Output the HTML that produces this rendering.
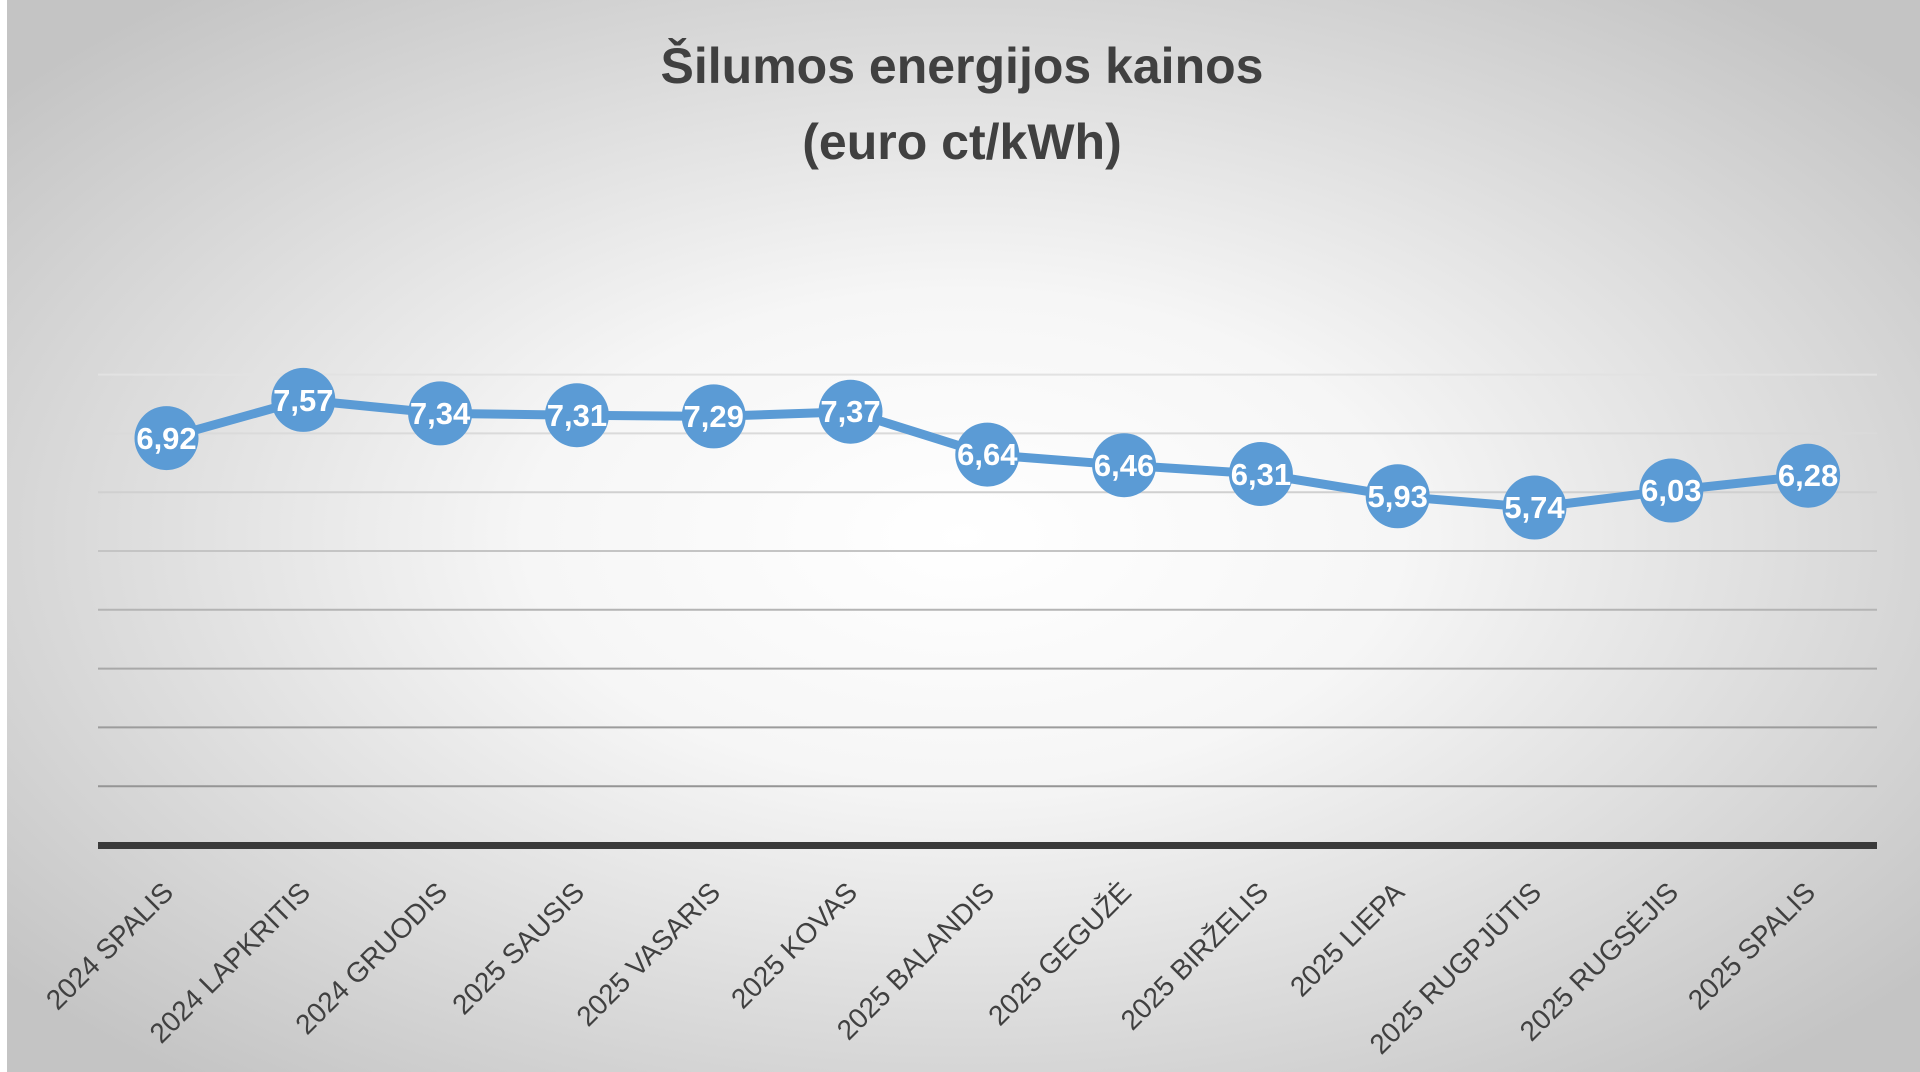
<!DOCTYPE html>
<html><head><meta charset="utf-8"><style>
html,body{margin:0;padding:0;width:1920px;height:1072px;overflow:hidden;background:#fff}
</style></head><body>
<svg width="1920" height="1072" xmlns="http://www.w3.org/2000/svg">
<defs>
<radialGradient id="bg" cx="50%" cy="50%" r="65%">
<stop offset="0" stop-color="#ffffff"/>
<stop offset="0.35" stop-color="#f6f6f6"/>
<stop offset="1" stop-color="#c4c4c4"/>
</radialGradient>
</defs>
<rect x="0" y="0" width="1920" height="1072" fill="#fff"/>
<rect x="7" y="0" width="1913" height="1072" fill="url(#bg)"/>
<g font-family="'Liberation Sans', sans-serif">
<text x="962" y="83" font-size="50" font-weight="bold" fill="#404040" text-anchor="middle">Šilumos energijos kainos</text>
<text x="962" y="159" font-size="50" font-weight="bold" fill="#404040" text-anchor="middle">(euro ct/kWh)</text>
</g>
<g stroke-width="2">
<line x1="98" x2="1877" y1="374.6" y2="374.6" stroke="#e2e2e2"/>
<line x1="98" x2="1877" y1="433.4" y2="433.4" stroke="#dadada"/>
<line x1="98" x2="1877" y1="492.2" y2="492.2" stroke="#d0d0d0"/>
<line x1="98" x2="1877" y1="551" y2="551" stroke="#c4c4c4"/>
<line x1="98" x2="1877" y1="609.8" y2="609.8" stroke="#b4b4b4"/>
<line x1="98" x2="1877" y1="668.6" y2="668.6" stroke="#a8a8a8"/>
<line x1="98" x2="1877" y1="727.4" y2="727.4" stroke="#9c9c9c"/>
<line x1="98" x2="1877" y1="786.2" y2="786.2" stroke="#959595"/>
</g>
<rect x="98" y="842" width="1779" height="7" fill="#3a3a3a"/>
<polyline fill="none" stroke="#5b9bd5" stroke-width="9" stroke-linejoin="round"
points="166.5,438.1 303.3,399.9 440.1,413.4 576.9,415.2 713.7,416.4 850.5,411.7 987.3,454.6 1124.1,465.2 1260.9,474 1397.7,496.3 1534.5,507.5 1671.3,490.5 1808.1,475.7"/>
<g fill="#5b9bd5">
<circle cx="166.5" cy="438.1" r="32"/><circle cx="303.3" cy="399.9" r="32"/><circle cx="440.1" cy="413.4" r="32"/><circle cx="576.9" cy="415.2" r="32"/><circle cx="713.7" cy="416.4" r="32"/><circle cx="850.5" cy="411.7" r="32"/><circle cx="987.3" cy="454.6" r="32"/><circle cx="1124.1" cy="465.2" r="32"/><circle cx="1260.9" cy="474" r="32"/><circle cx="1397.7" cy="496.3" r="32"/><circle cx="1534.5" cy="507.5" r="32"/><circle cx="1671.3" cy="490.5" r="32"/><circle cx="1808.1" cy="475.7" r="32"/>
</g>
<g font-family="'Liberation Sans', sans-serif" font-size="31" font-weight="bold" fill="#fff" text-anchor="middle">
<text x="166.5" y="449">6,92</text><text x="303.3" y="411">7,57</text><text x="440.1" y="424">7,34</text><text x="576.9" y="426">7,31</text><text x="713.7" y="427">7,29</text><text x="850.5" y="422">7,37</text><text x="987.3" y="465">6,64</text><text x="1124.1" y="476">6,46</text><text x="1260.9" y="485">6,31</text><text x="1397.7" y="507">5,93</text><text x="1534.5" y="518">5,74</text><text x="1671.3" y="501">6,03</text><text x="1808.1" y="486">6,28</text>
</g>
<g font-family="'Liberation Sans', sans-serif" font-size="28" fill="#404040" text-anchor="end">
<text transform="translate(175,894) rotate(-45)">2024 SPALIS</text>
<text transform="translate(312,894) rotate(-45)">2024 LAPKRITIS</text>
<text transform="translate(449,894) rotate(-45)">2024 GRUODIS</text>
<text transform="translate(586,894) rotate(-45)">2025 SAUSIS</text>
<text transform="translate(722,894) rotate(-45)">2025 VASARIS</text>
<text transform="translate(859,894) rotate(-45)">2025 KOVAS</text>
<text transform="translate(996,894) rotate(-45)">2025 BALANDIS</text>
<text transform="translate(1133,894) rotate(-45)">2025 GEGUŽĖ</text>
<text transform="translate(1270,894) rotate(-45)">2025 BIRŽELIS</text>
<text transform="translate(1406,894) rotate(-45)">2025 LIEPA</text>
<text transform="translate(1543,894) rotate(-45)">2025 RUGPJŪTIS</text>
<text transform="translate(1680,894) rotate(-45)">2025 RUGSĖJIS</text>
<text transform="translate(1817,894) rotate(-45)">2025 SPALIS</text>
</g>
</svg>
</body></html>
